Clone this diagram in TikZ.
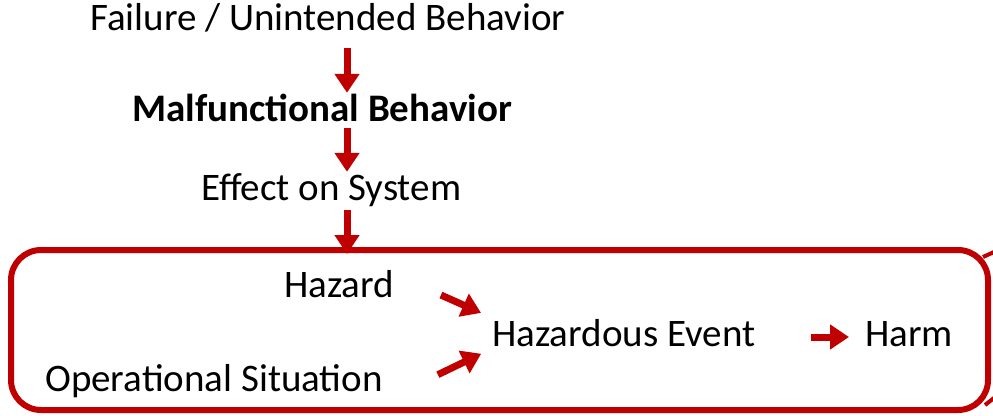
\documentclass[tikz,border=0pt]{standalone}
\usepackage{fontspec}
\setmainfont{Carlito}
\usetikzlibrary{arrows.meta}
\definecolor{hazred}{HTML}{C00000}

\begin{document}
\begin{tikzpicture} [x=1pt, y=-1pt,
  lbl/.style={inner sep=0, text height=28pt, text depth=10pt, anchor=base west, font=\fontsize{39}{41}\selectfont},
  flow/.style={hazred, line width=7pt, -{Triangle[width=24pt,length=19pt]}}]
\useasboundingbox (0,0) rectangle (993,415);
\coordinate (spine) at (347,0);
% chain down to the hazard
\node[lbl] (fail) at (90,30) {Failure / Unintended Behavior};
\node[lbl, font=\fontsize{39}{41}\selectfont\bfseries] (malf) at (132,121) {Malfunctional Behavior};
\node[lbl] (effect) at (201,200) {Effect on System};
\node[draw=hazred, line width=6pt, rounded corners=30pt, minimum width=977pt, minimum height=160pt, inner sep=0] (scene) at (499.5,330) {};
\foreach \a/\b/\s/\e in {fail/malf/8/0, malf/effect/-3/0, effect/scene/0/-7} {
 \draw[flow, shorten <=\s pt, shorten >=\e pt] (\a.south -| spine) -- (\b.north -| spine);
}
% inside the box
\node[lbl] (hazard) at (284,297) {Hazard};
\node[lbl] (opsit) at (45,391) {Operational Situation};
\node[lbl] (event) at (492,346) {Hazardous Event};
\node[lbl] (harm) at (865,346) {Harm};
\draw[flow, shorten <=51pt, shorten >=12pt] (hazard.14) -- (event.north west);
\draw[flow, shorten <=61pt, shorten >=12pt] (opsit.south east) -- (event.185);
\draw[flow, shorten <=56pt, shorten >=16pt] (event.east) -- (harm.west);
% next box, cut off at the edge
\draw[hazred, line width=4pt] (983,257) -- (994,252);
\draw[hazred, line width=4pt] (985,405) -- (994,398);
\end{tikzpicture}
\end{document}
